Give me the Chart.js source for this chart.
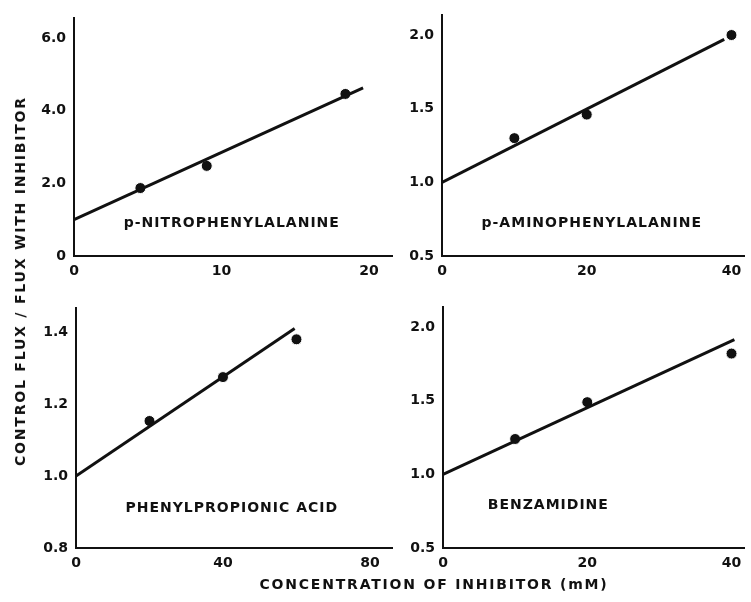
<!DOCTYPE html>
<html>
<head>
<meta charset="utf-8">
<script src="https://cdn.jsdelivr.net/npm/chart.js@4.4.1/dist/chart.umd.min.js"></script>
<style>
  html, body { margin: 0; padding: 0; background: #fff; }
  #wrap { position: relative; width: 751px; height: 602px; overflow: hidden; font-family: 'DejaVu Sans', sans-serif; color: #111; }
  canvas { position: absolute; }
  .title { position: absolute; white-space: nowrap; font-weight: bold; font-size: 14px; letter-spacing: 1.8px; }
  #ytitle { left: 20px; top: 281px; transform: translate(-50%, -50%) rotate(-90deg); }
  #xtitle { left: 434px; top: 584px; transform: translate(-50%, -50%); }
</style>
</head>
<body>
<div id="wrap">
  <canvas id="c1" width="400" height="300" style="left:0;top:0"></canvas>
  <canvas id="c2" width="351" height="300" style="left:400px;top:0"></canvas>
  <canvas id="c3" width="400" height="302" style="left:0;top:300px"></canvas>
  <canvas id="c4" width="351" height="302" style="left:400px;top:300px"></canvas>
  <div class="title" id="ytitle">CONTROL FLUX / FLUX WITH INHIBITOR</div>
  <div class="title" id="xtitle">CONCENTRATION OF INHIBITOR (mM)</div>
</div>
<script>
// ── Data ────────────────────────────────────────────────────────────────
// p-nitrophenylalanine
const nitroX    = [4.5, 9.0, 18.4];
const nitroY    = [1.87, 2.48, 4.46];
const nitroFitX = [0, 19.6];
const nitroFitY = [1.0, 4.63];
const nitroXTicks = [0, 10, 20];
const nitroYTicks = [0, 2, 4, 6];
const nitroYLabels = ['0', '2.0', '4.0', '6.0'];

// p-aminophenylalanine
const aminoX    = [10, 20, 40];
const aminoY    = [1.30, 1.46, 2.0];
const aminoFitX = [0, 39];
const aminoFitY = [1.0, 1.97];
const aminoXTicks = [0, 20, 40];
const aminoYTicks = [0.5, 1.0, 1.5, 2.0];
const aminoYLabels = ['0.5', '1.0', '1.5', '2.0'];

// phenylpropionic acid
const propX    = [20, 40, 60];
const propY    = [1.153, 1.275, 1.38];
const propFitX = [0, 59.5];
const propFitY = [1.0, 1.41];
const propXTicks = [0, 40, 80];
const propYTicks = [0.8, 1.0, 1.2, 1.4];
const propYLabels = ['0.8', '1.0', '1.2', '1.4'];

// benzamidine
const benzX    = [10, 20, 40];
const benzY    = [1.24, 1.49, 1.82];
const benzFitX = [0, 40.4];
const benzFitY = [1.0, 1.915];
const benzXTicks = [0, 20, 40];
const benzYTicks = [0.5, 1.0, 1.5, 2.0];
const benzYLabels = ['0.5', '1.0', '1.5', '2.0'];

const INK = '#111';
const TICK_FONT = { family: 'DejaVu Sans', size: 14, weight: 'bold' };

// ── Panel label drawn inside the plot ──────────────────────────────────
const labelPlugin = {
    id: 'panelLabel',
    afterDatasetsDraw(chart, args, opts) {
        const { ctx, scales: { x, y } } = chart;
        ctx.save();
        ctx.font = 'bold 14px "DejaVu Sans"';
        ctx.letterSpacing = '1px';
        ctx.fillStyle = INK;
        ctx.textAlign = 'center';
        ctx.textBaseline = 'middle';
        ctx.fillText(opts.text, x.getPixelForValue(opts.x), y.getPixelForValue(opts.y));
        ctx.restore();
    }
};

function panel(id, o) {
    const pts = (xs, ys) => xs.map((x, i) => ({ x, y: ys[i] }));
    return new Chart(document.getElementById(id), {
        type: 'scatter',
        data: {
            datasets: [
                { data: pts(o.fx, o.fy), showLine: true, pointRadius: 0,
                  borderColor: INK, borderWidth: 3 },
                { data: pts(o.px, o.py), pointRadius: 5.5, pointBackgroundColor: INK,
                  pointBorderColor: '#fff', pointBorderWidth: 1 }
            ]
        },
        options: {
            responsive: false,
            animation: false,
            events: [],
            layout: { padding: { top: o.padTop, right: o.padRight, left: 0, bottom: 0 } },
            plugins: {
                legend: { display: false },
                tooltip: { enabled: false },
                panelLabel: { text: o.label, x: o.lx, y: o.ly }
            },
            scales: {
                x: {
                    type: 'linear', min: 0, max: o.xMax,
                    grid: { display: false, drawTicks: false },
                    border: { display: true, color: INK, width: 2 },
                    ticks: { padding: 7, color: INK, font: TICK_FONT, autoSkip: false, maxRotation: 0 },
                    afterBuildTicks: s => { s.ticks = o.xt.map(v => ({ value: v })); },
                    afterFit: s => {
                        s.height = o.xH;
                        s.paddingLeft = 0; s.paddingRight = 0;
                    }
                },
                y: {
                    type: 'linear', min: o.yMin, max: o.yMax,
                    grid: { display: false, drawTicks: false },
                    border: { display: true, color: INK, width: 2 },
                    ticks: { padding: 8, color: INK, font: TICK_FONT, autoSkip: false,
                             callback: (v, i) => o.yl[i] },
                    afterBuildTicks: s => { s.ticks = o.yt.map(v => ({ value: v })); },
                    afterFit: s => {
                        s.width = o.yW;
                        s.paddingTop = 0; s.paddingBottom = 0;
                    }
                }
            }
        },
        plugins: [labelPlugin]
    });
}

panel('c1', {
    px: nitroX, py: nitroY, fx: nitroFitX, fy: nitroFitY,
    xt: nitroXTicks, yt: nitroYTicks, yl: nitroYLabels,
    xMax: 21.56, yMin: 0, yMax: 6.55,
    yW: 74, xH: 44, padTop: 18, padRight: 8,
    label: 'p-NITROPHENYLALANINE', lx: 10.7, ly: 0.91
});

panel('c2', {
    px: aminoX, py: aminoY, fx: aminoFitX, fy: aminoFitY,
    xt: aminoXTicks, yt: aminoYTicks, yl: aminoYLabels,
    xMax: 41.8, yMin: 0.5, yMax: 2.136,
    yW: 42, xH: 44, padTop: 15, padRight: 1,
    label: 'p-AMINOPHENYLALANINE', lx: 20.7, ly: 0.72
});

panel('c3', {
    px: propX, py: propY, fx: propFitX, fy: propFitY,
    xt: propXTicks, yt: propYTicks, yl: propYLabels,
    xMax: 86, yMin: 0.8, yMax: 1.467,
    yW: 76, xH: 54, padTop: 8, padRight: 8,
    label: 'PHENYLPROPIONIC ACID', lx: 42.4, ly: 0.91
});

panel('c4', {
    px: benzX, py: benzY, fx: benzFitX, fy: benzFitY,
    xt: benzXTicks, yt: benzYTicks, yl: benzYLabels,
    xMax: 41.8, yMin: 0.5, yMax: 2.136,
    yW: 43, xH: 54, padTop: 7, padRight: 1,
    label: 'BENZAMIDINE', lx: 14.6, ly: 0.79
});
</script>
</body>
</html>
